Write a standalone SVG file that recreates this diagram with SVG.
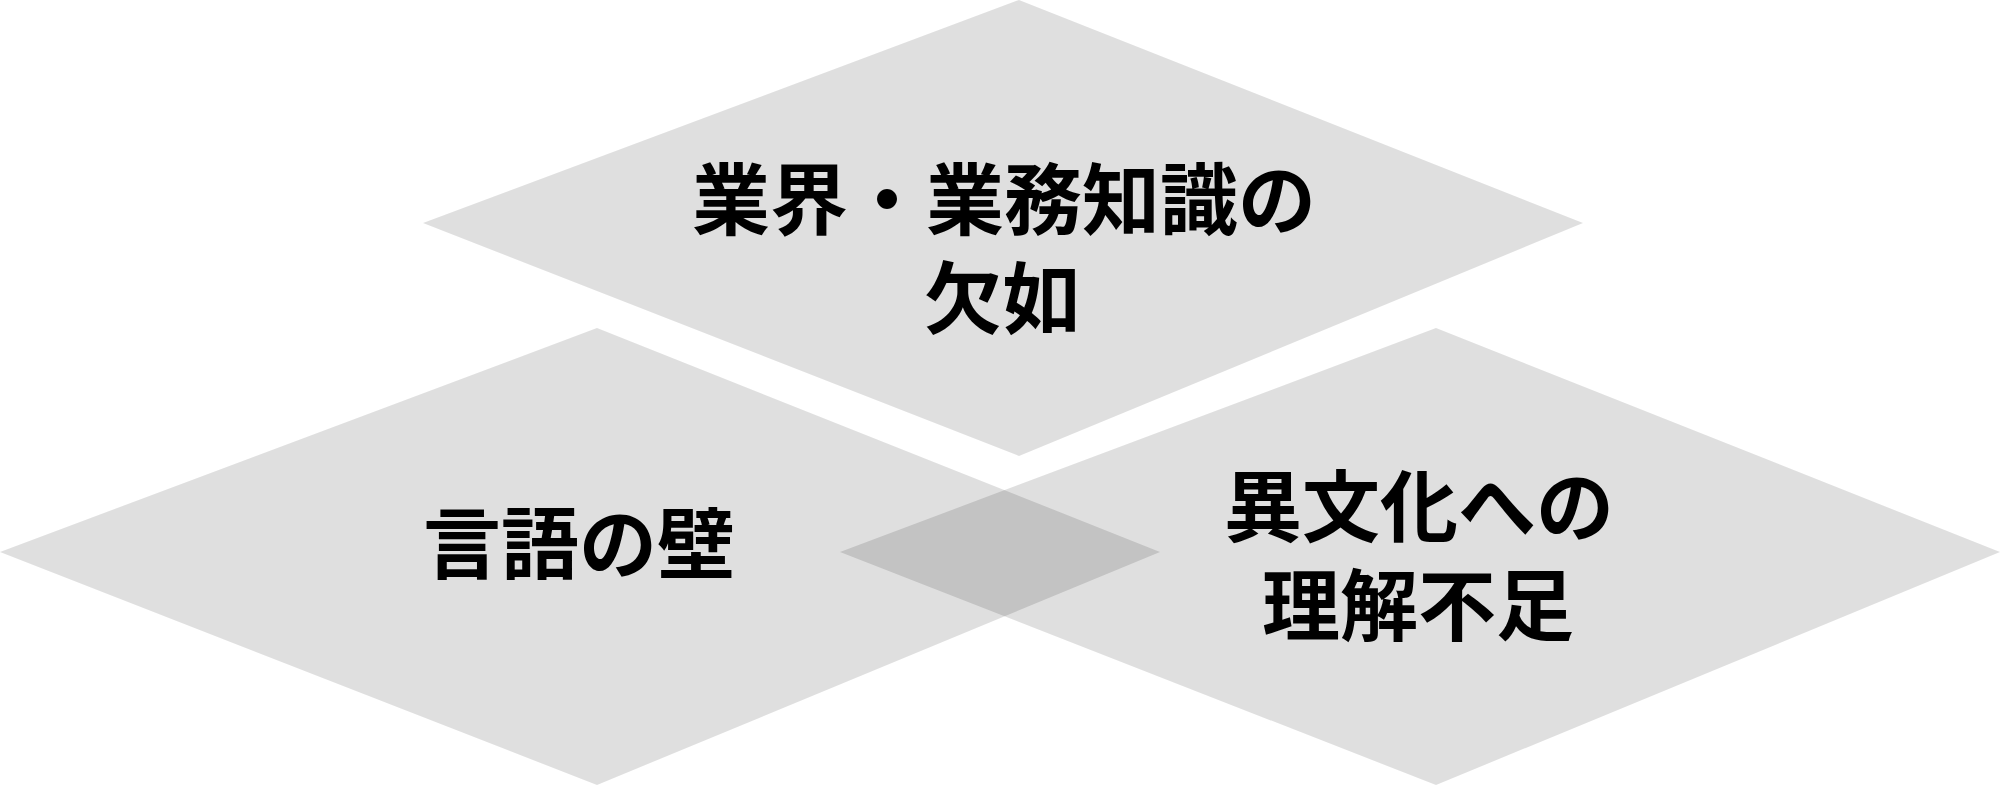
<svg xmlns="http://www.w3.org/2000/svg" width="2000" height="785" viewBox="0 0 2000 785">
<style>
.d{fill:#000;fill-opacity:0.125;stroke:none}
.t{font-family:"Noto Sans CJK JP","Noto Sans",sans-serif;font-weight:700;font-size:78px;fill:#000;text-anchor:middle}
</style>
<rect width="2000" height="785" fill="#fff"/>
<g id="node-top">
<polygon class="d" points="423,223 1019,0 1583,223 1019,456"/>
<text class="t" x="1004" y="229">業界・業務知識の</text>
<text class="t" x="1002" y="328">欠如</text>
</g>
<g id="node-left">
<polygon class="d" points="0,552 597,328 1160,552 597,785"/>
<text class="t" x="579" y="573">言語の壁</text>
</g>
<g id="node-right">
<polygon class="d" points="840,552 1436,328 2000,552 1436,785"/>
<text class="t" x="1419" y="536">異文化への</text>
<text class="t" x="1418" y="635">理解不足</text>
</g>
<g id="connectors"></g>
</svg>
